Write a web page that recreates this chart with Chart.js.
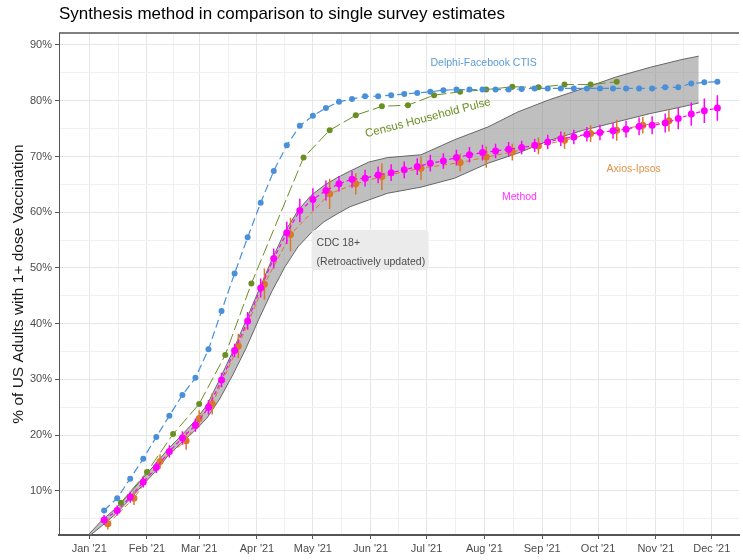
<!DOCTYPE html>
<html>
<head>
<meta charset="utf-8">
<script src="https://cdn.jsdelivr.net/npm/chart.js@4.4.1/dist/chart.umd.min.js"></script>
<style>
  html, body { margin: 0; padding: 0; background: #fff; }
  #wrap { width: 743px; height: 560px; }
</style>
</head>
<body>
<div id="wrap"><canvas id="myChart"></canvas></div>
<script>
// axis ticks (day of 2021)
const monthDays = [0, 31, 59, 90, 120, 151, 181, 212, 243, 273, 304, 334];
const monthLabels = ["Jan '21", "Feb '21", "Mar '21", "Apr '21", "May '21", "Jun '21",
  "Jul '21", "Aug '21", "Sep '21", "Oct '21", "Nov '21", "Dec '21"];
const yTickValues = [5, 10, 15, 20, 25, 30, 35, 40, 45, 50, 55, 60, 65, 70, 75, 80, 85, 90];

// weekly estimates (Delphi-Facebook CTIS and the synthesis method)
const weekDates = [
  "2021-01-09", "2021-01-16", "2021-01-23", "2021-01-30", "2021-02-06", "2021-02-13", "2021-02-20", "2021-02-27",
  "2021-03-06", "2021-03-13", "2021-03-20", "2021-03-27", "2021-04-03", "2021-04-10", "2021-04-17", "2021-04-24",
  "2021-05-01", "2021-05-08", "2021-05-15", "2021-05-22", "2021-05-29", "2021-06-05", "2021-06-12", "2021-06-19",
  "2021-06-26", "2021-07-03", "2021-07-10", "2021-07-17", "2021-07-24", "2021-07-31", "2021-08-07", "2021-08-14",
  "2021-08-21", "2021-08-28", "2021-09-04", "2021-09-11", "2021-09-18", "2021-09-25", "2021-10-02", "2021-10-09",
  "2021-10-16", "2021-10-23", "2021-10-30", "2021-11-06", "2021-11-13", "2021-11-20", "2021-11-27", "2021-12-04"
];
const delphiValues = [
  6.5, 8.7, 12.2, 15.8, 19.7, 23.5, 27.2, 30.3, 35.4, 42.3, 49.0, 55.5, 61.7, 67.4, 72.0, 75.5,
  77.3, 78.7, 79.8, 80.3, 80.8, 80.8, 81.0, 81.2, 81.4, 81.6, 81.9, 82.0, 82.0, 82.0, 82.0, 82.0,
  82.1, 82.2, 82.2, 82.2, 82.2, 82.2, 82.2, 82.2, 82.2, 82.2, 82.2, 82.4, 82.4, 83.1, 83.3, 83.4
];
const methodValues = [
  4.8, 6.5, 8.9, 11.6, 14.2, 17.1, 19.5, 21.8, 25.0, 29.9, 35.2, 40.5, 46.4, 51.7, 56.3, 60.3,
  62.3, 63.9, 65.1, 65.9, 66.1, 66.7, 67.1, 67.6, 68.2, 68.8, 69.2, 69.8, 70.3, 70.7, 71.0, 71.3,
  71.6, 72.0, 72.6, 73.2, 73.5, 74.0, 74.3, 74.6, 74.9, 75.4, 75.6, 76.0, 76.8, 77.6, 78.2, 78.7
];
const methodErr = [
  0.9, 0.9, 1.0, 1.0, 1.0, 1.1, 1.2, 1.2, 1.3, 1.3, 1.2, 1.6, 1.7, 1.8, 2.0, 2.1,
  2.0, 1.8, 1.4, 1.5, 1.5, 1.5, 1.5, 1.5, 1.5, 1.5, 1.4, 1.4, 1.4, 1.4, 1.3, 1.3,
  1.2, 1.2, 1.3, 1.3, 1.3, 1.3, 1.4, 1.4, 1.5, 1.6, 1.6, 1.7, 1.9, 2.1, 2.2, 2.3
];

// Census Household Pulse
const censusDates = [
  "2021-01-18", "2021-02-01", "2021-02-15", "2021-03-01", "2021-03-15", "2021-03-29", "2021-04-26",
  "2021-05-10", "2021-05-24", "2021-06-07", "2021-06-21", "2021-07-05", "2021-07-19", "2021-08-02",
  "2021-08-16", "2021-08-30", "2021-09-13", "2021-09-27", "2021-10-11"
];
const censusValues = [7.9, 13.4, 20.2, 25.6, 34.4, 47.2, 69.8, 74.7, 77.4, 79.0, 79.2, 81.0, 81.6, 82.0, 82.5, 82.4, 82.9, 82.9, 83.4];

// Axios-Ipsos
const axiosDates = [
  "2021-01-11", "2021-01-25", "2021-02-08", "2021-02-22", "2021-03-01", "2021-03-08", "2021-03-22", "2021-04-05",
  "2021-04-19", "2021-05-10", "2021-05-24", "2021-06-07", "2021-06-28", "2021-07-19", "2021-08-02", "2021-08-16",
  "2021-08-30", "2021-09-13", "2021-09-27", "2021-10-11", "2021-10-25", "2021-11-08"
];
const axiosValues = [4.1, 8.7, 15.3, 19.0, 23.0, 25.6, 36.0, 47.1, 56.0, 63.3, 65.1, 66.4, 67.9, 68.9, 69.9, 70.8, 71.9, 72.9, 74.1, 74.7, 75.6, 76.4];
const axiosErr = [1.0, 1.2, 1.3, 1.6, 1.5, 1.9, 2.2, 2.8, 3.0, 2.7, 1.9, 2.4, 2.1, 1.6, 1.9, 1.5, 1.5, 1.5, 1.5, 1.9, 1.5, 1.9];

// CDC 18+ (retroactively updated) range
const cdcDates = [
  "2021-01-01", "2021-01-08", "2021-01-15", "2021-01-22", "2021-01-29", "2021-02-05", "2021-02-12", "2021-02-19",
  "2021-02-26", "2021-03-05", "2021-03-12", "2021-03-19", "2021-03-26", "2021-04-02", "2021-04-09", "2021-04-16",
  "2021-04-23", "2021-04-30", "2021-05-07", "2021-05-14", "2021-05-21", "2021-05-31", "2021-06-10", "2021-06-28",
  "2021-07-16", "2021-08-03", "2021-08-19", "2021-09-05", "2021-09-23", "2021-10-11", "2021-10-29", "2021-11-15", "2021-11-24"
];
const cdcLow = [
  1.9, 3.8, 5.8, 8.2, 10.8, 13.3, 16.2, 18.5, 20.6, 23.0, 26.5, 30.8, 35.5, 40.8, 45.8, 50.2,
  53.8, 56.3, 58.3, 59.7, 61.0, 62.2, 63.4, 64.5, 66.1, 68.8, 70.6, 72.9, 74.7, 76.2, 77.7, 78.9, 79.6
];
const cdcHigh = [
  2.3, 4.8, 6.8, 9.3, 12.0, 14.6, 17.4, 19.8, 22.3, 25.3, 30.0, 35.0, 40.5, 46.0, 51.5, 56.5,
  60.3, 63.0, 64.8, 66.2, 67.4, 69.0, 69.8, 70.3, 73.0, 75.3, 78.0, 80.2, 82.2, 84.3, 86.0, 87.4, 88.0
];

const FONT = '"Liberation Sans", Arial, sans-serif';
const BLUE = "#4a90d9";
const GREEN = "#6b8e23";
const MAGENTA = "#ff00ff";
const ORANGE = "#d9792a";

function dayOf(s) {
  const [yy, mm, dd] = s.split("-").map(Number);
  return (Date.UTC(yy, mm - 1, dd) - Date.UTC(2021, 0, 1)) / 86400000;
}
function points(dates, vals) {
  return dates.map((d, i) => ({ x: dayOf(d), y: vals[i] }));
}
function errorBars(dates, vals, err) {
  const out = [];
  dates.forEach((d, i) => {
    const x = dayOf(d);
    out.push({ x: x, y: vals[i] - err[i] }, { x: x, y: vals[i] + err[i] }, { x: x, y: null });
  });
  return out;
}

// minor grid halfway between months
const xTickValues = [];
monthDays.forEach((d, i) => {
  xTickValues.push(d);
  if (i < monthDays.length - 1) xTickValues.push((d + monthDays[i + 1]) / 2);
});

const textLabels = {
  id: "textLabels",
  afterDatasetsDraw(chart) {
    const { ctx, scales: { x, y } } = chart;
    ctx.save();
    ctx.textBaseline = "middle";
    ctx.textAlign = "center";
    ctx.font = "10.5px " + FONT;

    ctx.fillStyle = "#5b9bd5";
    ctx.fillText("Delphi-Facebook CTIS", x.getPixelForValue(211.6), y.getPixelForValue(86.7));

    ctx.fillStyle = "#ff33ff";
    ctx.fillText("Method", x.getPixelForValue(230.8), y.getPixelForValue(62.7));

    ctx.fillStyle = "#e3934a";
    ctx.fillText("Axios-Ipsos", x.getPixelForValue(292.1), y.getPixelForValue(67.7));

    // rotated census label
    ctx.save();
    ctx.translate(x.getPixelForValue(181.7), y.getPixelForValue(76.9));
    ctx.rotate(-14.6 * Math.PI / 180);
    ctx.font = "11.5px " + FONT;
    ctx.fillStyle = "#6b8e23";
    ctx.fillText("Census Household Pulse", 0, 0);
    ctx.restore();

    // CDC box
    const bx = x.getPixelForValue(119.3);
    const by = y.getPixelForValue(56.8);
    ctx.fillStyle = "#ebebeb";
    ctx.beginPath();
    ctx.roundRect(bx, by, 117, 40, 4);
    ctx.fill();
    ctx.fillStyle = "#4d4d4d";
    ctx.textAlign = "left";
    ctx.fillText("CDC 18+", bx + 5, by + 13);
    ctx.fillText("(Retroactively updated)", bx + 5, by + 32);
    ctx.restore();
  },
  afterDraw(chart) {
    const { ctx, chartArea } = chart;
    ctx.save();
    ctx.strokeStyle = "#555";
    ctx.lineWidth = 1.5;
    ctx.beginPath();
    ctx.moveTo(chartArea.left, chartArea.top);
    ctx.lineTo(chartArea.right, chartArea.top);
    ctx.stroke();
    ctx.restore();
  }
};

const ctx = document.getElementById("myChart").getContext("2d");
const chart = new Chart(ctx, {
  type: "line",
  data: {
    datasets: [
      {
        label: "CDC low",
        data: points(cdcDates, cdcLow),
        borderColor: "#666",
        borderWidth: 1,
        pointRadius: 0,
        fill: false,
        order: 10,
      },
      {
        label: "CDC 18+",
        data: points(cdcDates, cdcHigh),
        borderColor: "#666",
        borderWidth: 1,
        pointRadius: 0,
        backgroundColor: "rgba(128,128,128,0.5)",
        fill: "-1",
        order: 9,
      },
      {
        label: "Axios-Ipsos err",
        data: errorBars(axiosDates, axiosValues, axiosErr),
        borderColor: ORANGE,
        borderWidth: 1.5,
        pointRadius: 0,
        spanGaps: false,
        order: 8,
      },
      {
        label: "Axios-Ipsos",
        data: points(axiosDates, axiosValues),
        borderColor: ORANGE,
        backgroundColor: ORANGE,
        borderWidth: 1,
        borderDash: [5, 3],
        pointRadius: 3.5,
        pointBorderWidth: 0,
        order: 7,
      },
      {
        label: "Method err",
        data: errorBars(weekDates, methodValues, methodErr),
        borderColor: MAGENTA,
        borderWidth: 1.5,
        pointRadius: 0,
        spanGaps: false,
        order: 6,
      },
      {
        label: "Method",
        data: points(weekDates, methodValues),
        borderColor: MAGENTA,
        backgroundColor: MAGENTA,
        borderWidth: 1.2,
        borderDash: [4, 3],
        pointRadius: 3.5,
        pointBorderWidth: 0,
        order: 5,
      },
      {
        label: "Census Household Pulse",
        data: points(censusDates, censusValues),
        borderColor: GREEN,
        backgroundColor: GREEN,
        borderWidth: 1,
        borderDash: [12, 4],
        pointRadius: 3,
        pointBorderWidth: 0,
        order: 4,
      },
      {
        label: "Delphi-Facebook CTIS",
        data: points(weekDates, delphiValues),
        borderColor: BLUE,
        backgroundColor: BLUE,
        borderWidth: 1.2,
        borderDash: [8, 4],
        pointRadius: 3,
        pointBorderWidth: 0,
        order: 3,
      },
    ],
  },
  options: {
    responsive: true,
    maintainAspectRatio: false,
    animation: false,
    events: [],
    layout: { padding: 0 },
    elements: { line: { tension: 0 } },
    plugins: {
      legend: { display: false },
      tooltip: { enabled: false },
      filler: { drawTime: "beforeDatasetsDraw" },
      title: {
        display: true,
        text: "Synthesis method in comparison to single survey estimates",
        align: "start",
        fullSize: false,
        color: "#000",
        font: { size: 17, family: FONT, weight: "normal" },
        padding: { top: 4, bottom: 8.6 },
      },
    },
    scales: {
      x: {
        type: "linear",
        min: -16.2,
        max: 348.6,
        afterBuildTicks: function (scale) {
          scale.ticks = xTickValues.map((v) => ({ value: v }));
        },
        afterFit: function (scale) {
          scale.height = 25;
        },
        ticks: {
          autoSkip: false,
          maxRotation: 0,
          minRotation: 0,
          padding: 3,
          color: "#4d4d4d",
          font: { size: 11, family: FONT },
          callback: function (value) {
            const i = monthDays.indexOf(value);
            return i >= 0 ? monthLabels[i] : "";
          },
        },
        grid: {
          color: (c) => (c.tick && monthDays.includes(c.tick.value) ? "#e6e6e6" : "#f0f0f0"),
          tickColor: (c) => (c.tick && monthDays.includes(c.tick.value) ? "#555" : "rgba(0,0,0,0)"),
          tickLength: 4,
        },
        border: { color: "#555", width: 2 },
      },
      y: {
        min: 2.1,
        max: 92.15,
        afterBuildTicks: function (scale) {
          scale.ticks = yTickValues.map((v) => ({ value: v }));
        },
        afterFit: function (scale) {
          scale.width = 59;
        },
        ticks: {
          padding: 3,
          color: "#4d4d4d",
          font: { size: 11, family: FONT },
          callback: function (value) {
            return value % 10 === 0 ? value + "%" : "";
          },
        },
        grid: {
          color: (c) => (c.tick && c.tick.value % 10 === 0 ? "#e6e6e6" : "#f0f0f0"),
          tickColor: (c) => (c.tick && c.tick.value % 10 === 0 ? "#555" : "rgba(0,0,0,0)"),
          tickLength: 4,
        },
        border: { color: "#555", width: 1 },
        title: {
          display: true,
          text: "% of US Adults with 1+ dose Vaccination",
          color: "#1a1a1a",
          font: { size: 15.5, family: FONT },
          padding: { top: 9, bottom: 0 },
        },
      },
    },
  },
  plugins: [textLabels],
});
</script>
</body>
</html>
